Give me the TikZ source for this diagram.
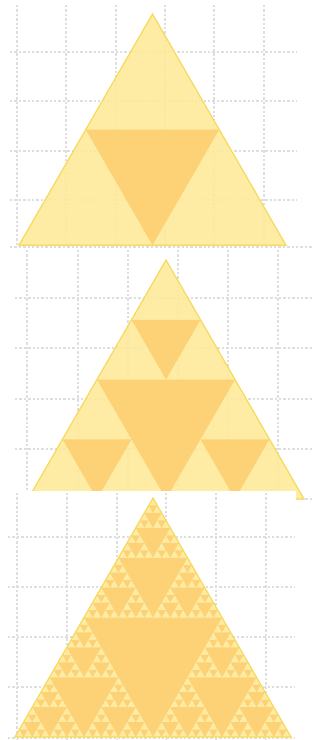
\documentclass[tikz,border=0pt]{standalone}
\usetikzlibrary{calc}
\definecolor{tripale}{RGB}{254,234,156}
\definecolor{trideep}{RGB}{253,208,114}
\definecolor{triedge}{RGB}{247,218,90}
\definecolor{gridgray}{RGB}{222,222,222}
\tikzset{
  gridln/.style={gridgray, line width=0.55pt, dash pattern=on 1.2pt off 1pt},
  bigtri/.style={fill=tripale, fill opacity=0.9, draw=triedge, line width=0.6pt},
  holetri/.style={fill=trideep, fill opacity=0.9},
  pagebox/.style={fill=white, draw=none},
}
% recursive holes: depth, apex x, apex y, side
\newcommand{\sierphole}[4]{%
  \begingroup
  \pgfmathsetmacro{\sq}{#4/4}%
  \pgfmathsetmacro{\hh}{#4*0.4330127}%
  \pgfmathsetmacro{\hf}{#4*0.8660254}%
  \fill[holetri] (#2-\sq,#3+\hh) -- (#2+\sq,#3+\hh) -- (#2,#3+\hf) -- cycle;
  \ifnum#1>1
    \pgfmathsetmacro{\sh}{#4/2}%
    \pgfmathsetmacro{\xl}{#2-\sq}%
    \pgfmathsetmacro{\xr}{#2+\sq}%
    \pgfmathsetmacro{\ym}{#3+\hh}%
    \pgfmathtruncatemacro{\dn}{#1-1}%
    \edef\nxt{\noexpand\sierphole{\dn}{#2}{#3}{\sh}%
      \noexpand\sierphole{\dn}{\xl}{\ym}{\sh}%
      \noexpand\sierphole{\dn}{\xr}{\ym}{\sh}}%
    \nxt
  \fi
  \endgroup}
\begin{document}
\begin{tikzpicture}[x=0.5pt, y=-0.5pt]
  \useasboundingbox (0,0) rectangle (320,740);
  \fill[white] (0,0) rectangle (320,740);
  % panel 1
  \foreach \gx in {17,66,116,165,214,264}
    \draw[gridln] (\gx,5) -- (\gx,247);
  \foreach \gy in {52,101,151,200}
    \draw[gridln] (10,\gy) -- (297,\gy);
  \draw[gridln] (10,247) -- (312,247);
  \coordinate (topA) at (152.5,14);
  \draw[bigtri] (topA) -- (19,245.2) -- (286,245.2) -- cycle;
  \sierphole{1}{152.5}{14}{267}
  % panel 2
  \foreach \gx in {27,78,128,178,228,278}
    \draw[gridln] (\gx,250) -- (\gx,499);
  \foreach \gy in {298,348,399,449}
    \draw[gridln] (15,\gy) -- (312,\gy);
  \draw[gridln] (15,499) -- (312,499);
  \coordinate (midA) at (166,260);
  \draw[bigtri] (midA) -- (28,499) -- (304,499) -- cycle;
  \sierphole{2}{166}{260}{276}
  % panel 3
  \fill[pagebox] (0,491) rectangle (296,740);
  \foreach \gx in {17,67,117,166,216,266}
    \draw[gridln] (\gx,493) -- (\gx,740);
  \foreach \gy in {537,587,637,687,738}
    \draw[gridln] (8,\gy) -- (295,\gy);
  \coordinate (lowA) at (153,498);
  \draw[bigtri] (lowA) -- (15,737) -- (291,737) -- cycle;
  \sierphole{5}{153}{498}{276}
\end{tikzpicture}
\end{document}
